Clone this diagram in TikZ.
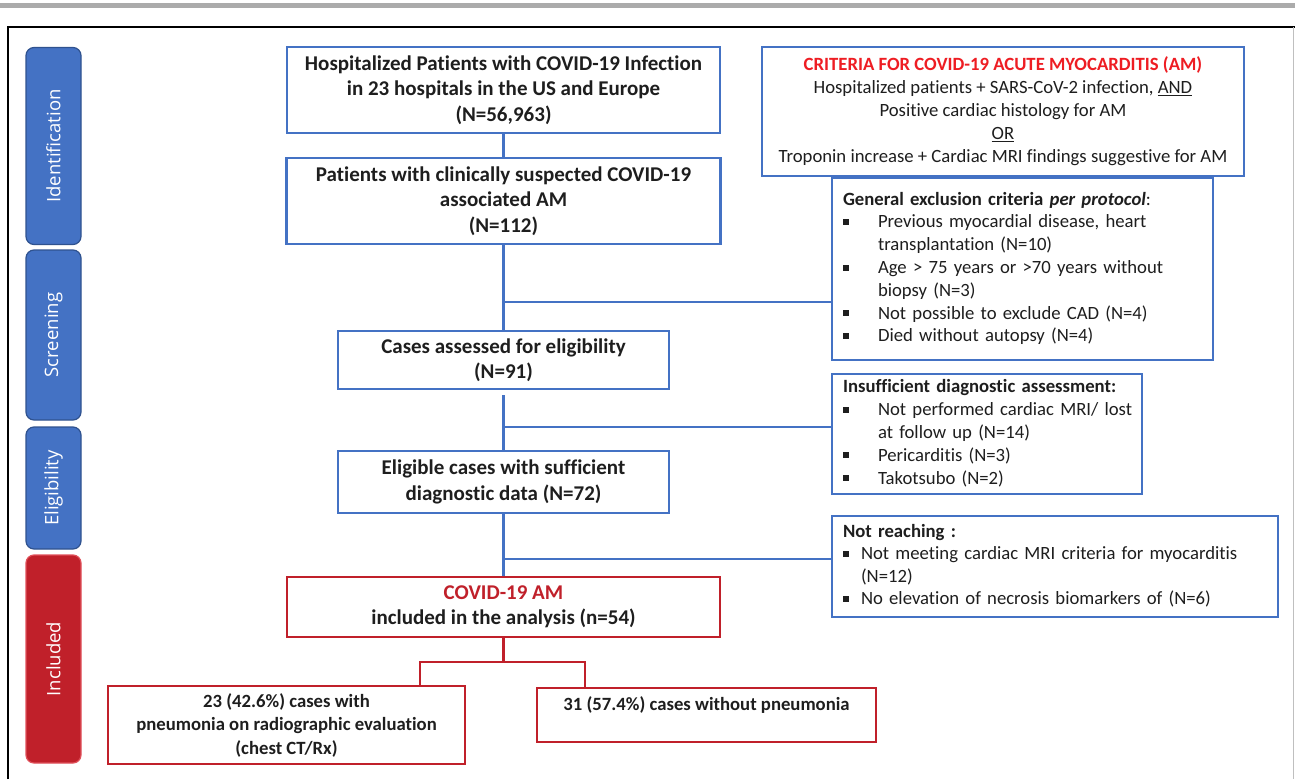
\documentclass[tikz,border=0pt]{standalone}
\usepackage{fontspec}
\setmainfont{Carlito}[Ligatures=NoCommon]
\newfontfamily\sidefont{Open Sans}

\definecolor{boxblue}{HTML}{4472C4}
\definecolor{sideblue}{HTML}{2F528F}
\definecolor{boxred}{HTML}{C0202A}
\definecolor{sidered}{HTML}{E0505A}
\definecolor{titlered}{HTML}{EE1D23}
\definecolor{ink}{HTML}{1E1E1E}

\newcommand{\sqbul}{\raisebox{3pt}{\rule{6pt}{6pt}}}

\tikzset{
  flowbox/.style={draw=boxblue, line width=2.8pt, fill=white, text=ink, align=center,
    inner sep=0pt, font=\bfseries\fontsize{21}{25.5}\selectfont},
  redbox/.style={flowbox, draw=boxred},
  listbox/.style={draw=boxblue, line width=2.8pt, fill=white, text=ink, align=left,
    inner xsep=11pt, inner ysep=0pt, font=\fontsize{18.7}{22.8}\selectfont},
  phase/.style={rounded corners=8pt, fill=boxblue, draw=sideblue, line width=1.2pt,
    rotate=90, text=white, inner sep=0pt, minimum height=55pt,
    font=\sidefont\fontsize{18.5}{20}\selectfont},
  link/.style={draw=boxblue, line width=2.8pt},
  redlink/.style={draw=boxred, line width=2.8pt},
}

\begin{document}
\begin{tikzpicture}[x=1pt,y=-1pt]
    \useasboundingbox (0,0) rectangle (1295,779);
    % frame of the figure
    \fill[black!33] (0,3) rectangle (1295,8);
    \draw[line width=2pt] (8,779) -- (8,27) -- (1295,27);
    \draw[black!25, line width=1pt] (1293,27) -- (1293,779);

    % phases on the left
    \node[phase, minimum width=197pt] (ident) at (53.5,146) {Identification};
    \node[phase, minimum width=170pt] (screen) at (53.5,335) {Screening};
    \node[phase, minimum width=122pt] (eligph) at (53.5,488) {Eligibility};
    \node[phase, minimum width=208pt, fill=boxred, draw=sidered] (incl) at (53.5,659) {Included};

    % main flow
    \node[flowbox, minimum width=433pt, minimum height=86pt] (hosp) at (503.5,90)
        {\rule{0pt}{3pt}Hospitalized Patients with COVID-19 Infection\\in 23 hospitals in the US and Europe\\(N=56,963)};
    \node[flowbox, minimum width=434pt, minimum height=86pt] (susp) at (503.5,201)
        {\rule{0pt}{3pt}Patients with clinically suspected COVID-19\\associated AM\\(N=112)};
    \node[flowbox, minimum width=331pt, minimum height=58pt] (cases) at (503.5,360)
        {Cases assessed for eligibility\\(N=91)};
    \node[flowbox, minimum width=331pt, minimum height=62pt] (elig) at (503.5,482)
        {Eligible cases with sufficient\\diagnostic data (N=72)};
    \node[redbox, minimum width=433pt, minimum height=60pt] (am) at (503.5,607)
        {\textcolor{boxred}{COVID-19 AM}\\included in the analysis (n=54)};
    \node[redbox, minimum width=357pt, minimum height=78pt, font=\bfseries\fontsize{18.7}{23.5}\selectfont] (pneu) at (286.5,725)
        {23 (42.6\%) cases with\\pneumonia on radiographic evaluation\\(chest CT/Rx)};
    \node[redbox, minimum width=339pt, minimum height=54pt, font=\bfseries\fontsize{18.7}{23.5}\selectfont] (nopneu) at (706.5,715)
        {31 (57.4\%) cases without pneumonia\\\mbox{}};

    % criteria and exclusions
    \node[flowbox, minimum width=482pt, minimum height=129pt, font=\fontsize{18.7}{23}\selectfont] (crit) at (1003,111.5)
        {\textcolor{titlered}{\bfseries CRITERIA FOR COVID-19 ACUTE MYOCARDITIS (AM)}\\
         Hospitalized patients + SARS-CoV-2 infection, \underline{AND}\\
         Positive cardiac histology for AM\\
         \underline{OR}\\
         Troponin increase + Cardiac MRI findings suggestive for AM};
    \node[listbox, text width=359pt, minimum height=182pt] (excl) at (1022.5,269)
        {\begin{tabular}{@{}p{35pt}@{}l@{}}
         \multicolumn{2}{@{}l@{}}{\textbf{General exclusion criteria \textit{per protocol}}:}\\
         \sqbul & Previous myocardial disease, heart\\
                & transplantation (N=10)\\
         \sqbul & Age > 75 years or >70 years without\\
                & biopsy (N=3)\\
         \sqbul & Not possible to exclude CAD (N=4)\\
         \sqbul & Died without autopsy (N=4)
         \end{tabular}};
    \node[listbox, text width=288pt, minimum height=120pt] (insuf) at (987,434)
        {\begin{tabular}{@{}p{35pt}@{}l@{}}
         \multicolumn{2}{@{}l@{}}{\textbf{Insufficient diagnostic assessment:}}\\
         \sqbul & Not performed cardiac MRI/ lost\\
                & at follow up (N=14)\\
         \sqbul & Pericarditis (N=3)\\
         \sqbul & Takotsubo (N=2)
         \end{tabular}};
    \node[listbox, text width=424pt, minimum height=101pt, font=\fontsize{18.7}{22.4}\selectfont] (reach) at (1055,566.5)
        {\begin{tabular}{@{}p{18pt}@{}l@{}}
         \multicolumn{2}{@{}l@{}}{\textbf{Not reaching :}}\\
         \sqbul & Not meeting cardiac MRI criteria for myocarditis\\
                & (N=12)\\
         \sqbul & No elevation of necrosis biomarkers of (N=6)
         \end{tabular}};

    % connectors
    \coordinate (j1) at (503.5,302);
    \coordinate (j2) at (503.5,427);
    \coordinate (j3) at (503.5,559);
    \coordinate (split) at (503.5,662);
    \coordinate (sl) at (420,662);
    \coordinate (sr) at (585,662);
    \draw[link] (hosp) -- (susp);
    \draw[link] (susp) -- (cases);
    \draw[link] ([yshift=-5pt]cases.south) -- (elig);
    \draw[link] (elig) -- (am);
    \draw[link] (j1) -- (j1 -| excl.west);
    \draw[link] (j2) -- (j2 -| insuf.west);
    \draw[link] (j3) -- (j3 -| reach.west);
    \draw[redlink] (am) -- (split);
    \draw[redlink] (sl |- pneu.north) -- (sl) -- (sr) -- (sr |- nopneu.north);
\end{tikzpicture}
\end{document}
